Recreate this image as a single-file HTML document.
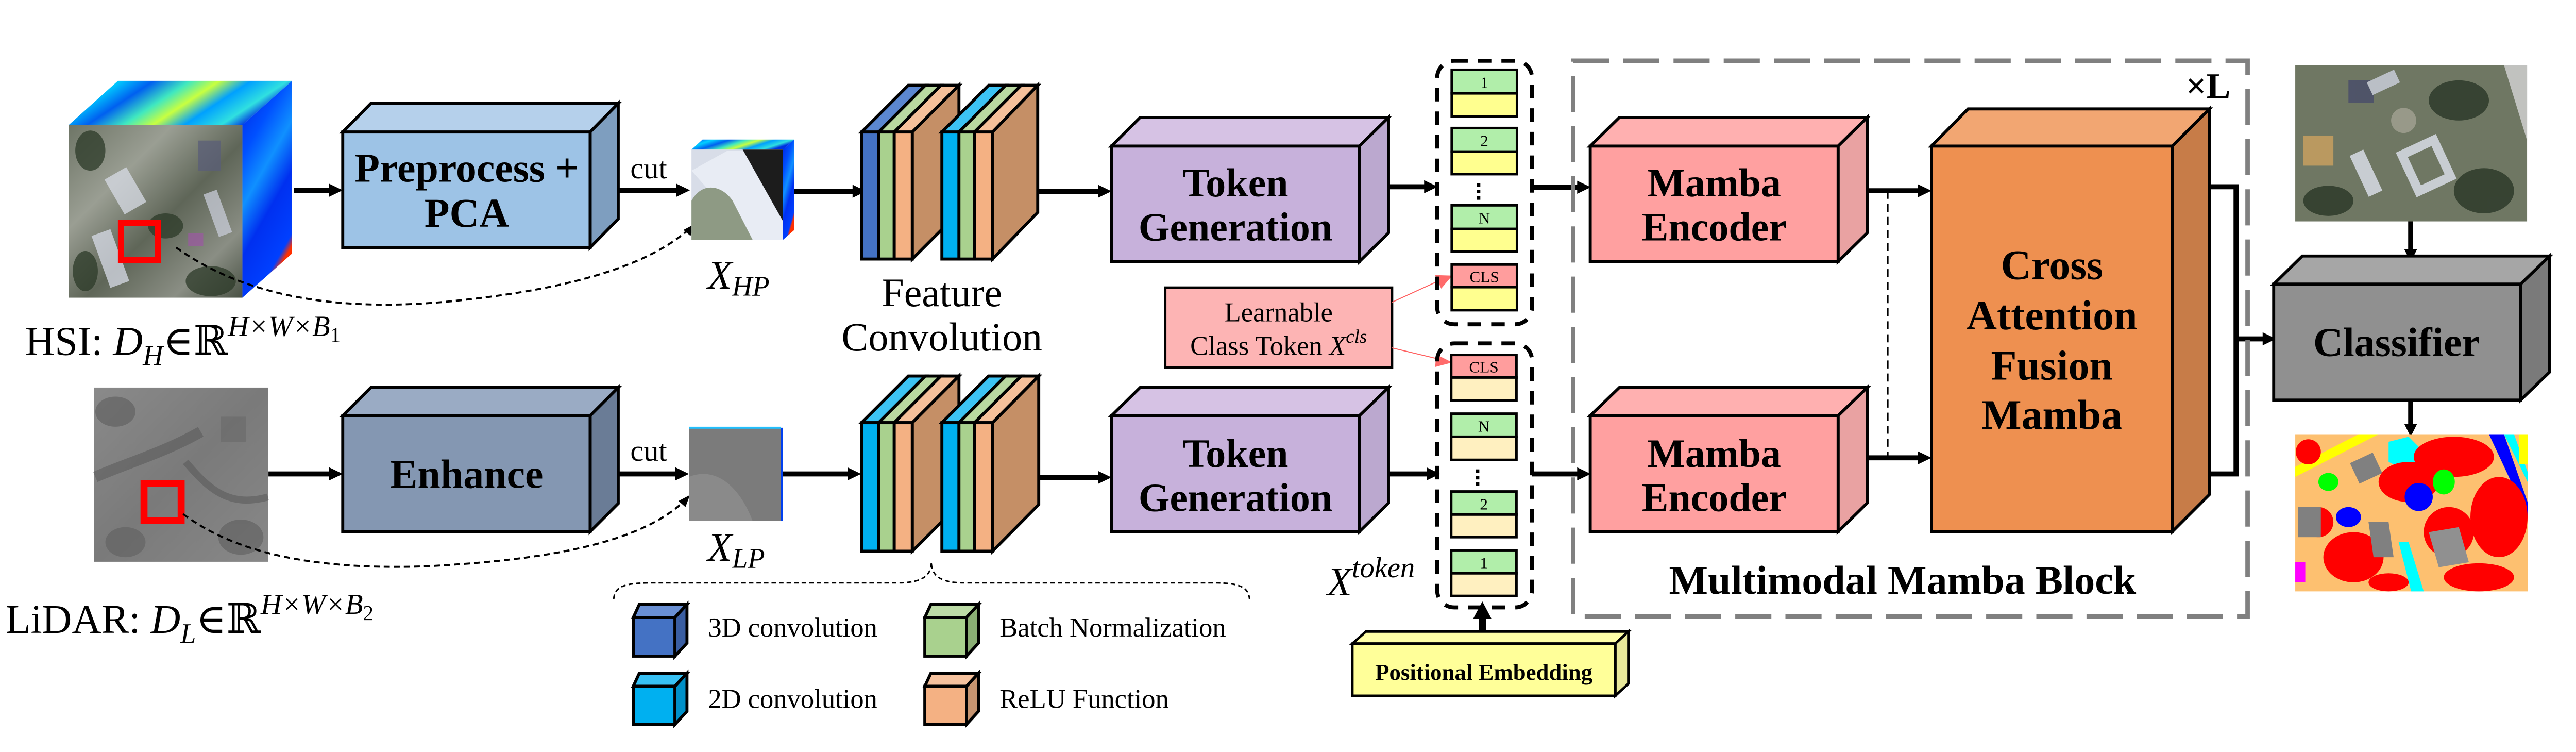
<!DOCTYPE html>
<html><head><meta charset="utf-8"><style>
html,body{margin:0;padding:0;background:#fff;overflow:hidden;}
svg{display:block;}
svg text{font-family:"Liberation Serif","DejaVu Serif",serif !important;}
</style></head><body>
<svg width="5133" height="1459" viewBox="0 0 5133 1459" xmlns="http://www.w3.org/2000/svg" font-family="Liberation Serif, DejaVu Serif, serif">
<defs>
<linearGradient id="jetT" x1="0" y1="0" x2="1" y2="0.3">
<stop offset="0" stop-color="#0040ff"/><stop offset="0.2" stop-color="#00d0ff"/><stop offset="0.35" stop-color="#0060f0"/><stop offset="0.5" stop-color="#40e8c0"/><stop offset="0.62" stop-color="#c8ff40"/><stop offset="0.75" stop-color="#00a0ff"/><stop offset="0.9" stop-color="#30e0e0"/><stop offset="1" stop-color="#0030e0"/>
</linearGradient>
<linearGradient id="jetS" x1="0" y1="0" x2="0.4" y2="1">
<stop offset="0" stop-color="#0020e0"/><stop offset="0.3" stop-color="#0050ff"/><stop offset="0.5" stop-color="#1090ff"/><stop offset="0.7" stop-color="#0030f0"/><stop offset="0.95" stop-color="#0040ff"/><stop offset="1" stop-color="#ff3000"/>
</linearGradient>
<linearGradient id="aer" x1="0" y1="0" x2="1" y2="1">
<stop offset="0" stop-color="#6e7566"/><stop offset="0.3" stop-color="#9a9e93"/><stop offset="0.55" stop-color="#5f6658"/><stop offset="0.8" stop-color="#8a8e84"/><stop offset="1" stop-color="#4a5245"/>
</linearGradient>
<linearGradient id="gry" x1="0" y1="0" x2="1" y2="1">
<stop offset="0" stop-color="#8a8a8a"/><stop offset="0.5" stop-color="#7a7a7a"/><stop offset="1" stop-color="#888"/>
</linearGradient>
</defs>
<g transform="scale(0.974)" font-family="Liberation Serif, DejaVu Serif, serif">

<polygon points="137,249 235,161 582,161 483,249" fill="url(#jetT)"/>
<polygon points="483,249 582,161 582,505 483,593" fill="url(#jetS)"/>
<rect x="137" y="249" width="346" height="344" fill="url(#aer)"/>
<g opacity="0.75">
<rect x="225" y="340" width="50" height="80" fill="#d8dce6" transform="rotate(-30 250 380)"/>
<rect x="395" y="280" width="45" height="60" fill="#5a5e78"/>
<rect x="420" y="380" width="28" height="90" fill="#c8ccd8" transform="rotate(-20 434 425)"/>
<rect x="200" y="460" width="40" height="110" fill="#d8dce8" transform="rotate(-20 220 515)"/>
<ellipse cx="180" cy="300" rx="30" ry="40" fill="#2c3a28"/>
<ellipse cx="330" cy="450" rx="35" ry="25" fill="#2c3a28"/>
<ellipse cx="420" cy="560" rx="50" ry="30" fill="#2c3a28"/>
<ellipse cx="170" cy="540" rx="25" ry="40" fill="#2c3a28"/>
<rect x="375" y="465" width="30" height="25" fill="#9a5aa0"/>
</g>
<rect x="241" y="444" width="74" height="74" fill="none" stroke="#ff0000" stroke-width="12"/>

<text x="50" y="707" font-size="82">HSI: <tspan font-style="italic">D</tspan><tspan font-style="italic" font-size="56" dy="20">H</tspan><tspan dy="-20">∈ℝ</tspan><tspan font-style="italic" font-size="58" dy="-38">H×W×B</tspan><tspan font-size="42" dy="12">1</tspan></text>

<rect x="187" y="772" width="347" height="347" fill="url(#gry)"/>
<g opacity="0.5">
<path d="M190,950 C260,920 330,900 400,860" stroke="#555" stroke-width="22" fill="none"/>
<path d="M370,920 C420,980 460,1010 534,990" stroke="#555" stroke-width="14" fill="none"/>
<ellipse cx="230" cy="820" rx="40" ry="30" fill="#555"/>
<ellipse cx="480" cy="1070" rx="45" ry="35" fill="#555"/>
<ellipse cx="250" cy="1080" rx="40" ry="30" fill="#5a5a5a"/>
<rect x="440" y="830" width="50" height="50" fill="#666"/>
</g>
<rect x="287" y="963" width="74" height="74" fill="none" stroke="#ff0000" stroke-width="14"/>

<text x="11" y="1261" font-size="82">LiDAR: <tspan font-style="italic">D</tspan><tspan font-style="italic" font-size="56" dy="20">L</tspan><tspan dy="-20">∈ℝ</tspan><tspan font-style="italic" font-size="58" dy="-38">H×W×B</tspan><tspan font-size="42" dy="12">2</tspan></text>

<g stroke="#000" stroke-width="10" fill="none">
<line x1="586" y1="379" x2="660" y2="379"/>
<line x1="535" y1="944" x2="660" y2="944"/>
<line x1="1232" y1="379" x2="1352" y2="379"/>
<line x1="1232" y1="944" x2="1350" y2="944"/>
<line x1="1583" y1="381" x2="1702" y2="381"/>
<line x1="1557" y1="944" x2="1692" y2="944"/>
<line x1="2068" y1="381" x2="2192" y2="381"/>
<line x1="2070" y1="951" x2="2192" y2="951"/>
<line x1="2767" y1="372" x2="2842" y2="372"/>
<line x1="2767" y1="944" x2="2848" y2="944"/>
<line x1="3053" y1="373" x2="3146" y2="373"/>
<line x1="3053" y1="944" x2="3146" y2="944"/>
<line x1="3690" y1="380" x2="3822" y2="380"/>
<line x1="3690" y1="912" x2="3822" y2="912"/>
<polyline points="4378,372 4456,372 4456,944 4378,944"/>
<line x1="4456" y1="675" x2="4512" y2="675"/>
<line x1="4804" y1="441" x2="4804" y2="500"/>
<line x1="4804" y1="797" x2="4804" y2="848"/>
<line x1="2954" y1="1265" x2="2954" y2="1230" stroke-width="14"/>
</g>
<g fill="#000">
<polygon points="683,379 656,366 656,392"/>
<polygon points="683,944 656,931 656,957"/>
<polygon points="1375,379 1348,366 1348,392"/>
<polygon points="1373,944 1346,931 1346,957"/>
<polygon points="1726,381 1699,368 1699,394"/>
<polygon points="1716,944 1689,931 1689,957"/>
<polygon points="2215,381 2188,368 2188,394"/>
<polygon points="2215,951 2188,938 2188,964"/>
<polygon points="2865,372 2838,359 2838,385"/>
<polygon points="2870,944 2843,931 2843,957"/>
<polygon points="3170,373 3143,360 3143,386"/>
<polygon points="3170,944 3143,931 3143,957"/>
<polygon points="3849,380 3822,367 3822,393"/>
<polygon points="3849,912 3822,899 3822,925"/>
<polygon points="4536,675 4509,662 4509,688"/>
<polygon points="4804,522 4791,496 4817,496"/>
<polygon points="4804,870 4791,844 4817,844"/>
<polygon points="2954,1198 2936,1232 2972,1232"/>
</g>

<path d="M351,493 C500,600 700,620 900,600 C1100,580 1280,540 1375,455" stroke="#000" stroke-width="4" stroke-dasharray="12 8" fill="none"/>
<polygon points="1385,446 1362,458 1376,470" fill="#000"/>
<path d="M365,1024 C480,1110 650,1135 850,1128 C1100,1115 1280,1080 1367,995" stroke="#000" stroke-width="4" stroke-dasharray="12 8" fill="none"/>
<polygon points="1375,986 1352,998 1366,1010" fill="#000"/>

<text x="1256" y="355" font-size="60">cut</text>
<text x="1256" y="918" font-size="60">cut</text>

<g stroke="#000" stroke-width="6">
<polygon points="683,263 739,206 1232,206 1176,263" fill="#b5d0eb"/>
<polygon points="1176,263 1232,206 1232,436 1176,493" fill="#7e9ebf"/>
<rect x="683" y="263" width="493" height="230" fill="#9dc3e6"/>
</g>
<text x="930" y="362" font-size="82" font-weight="bold" text-anchor="middle">Preprocess +</text>
<text x="930" y="452" font-size="82" font-weight="bold" text-anchor="middle">PCA</text>

<g stroke="#000" stroke-width="6">
<polygon points="683,828 739,772 1232,772 1176,828" fill="#9aabc4"/>
<polygon points="1176,828 1232,772 1232,1003 1176,1059" fill="#6a7c96"/>
<rect x="683" y="828" width="493" height="231" fill="#8497b2"/>
</g>
<text x="930" y="972" font-size="82" font-weight="bold" text-anchor="middle">Enhance</text>

<polygon points="1378,298 1400,278 1583,278 1560,298" fill="url(#jetT)"/>
<polygon points="1560,298 1583,278 1583,458 1560,478" fill="url(#jetS)"/>
<rect x="1378" y="298" width="182" height="180" fill="#d8dde8"/>
<path d="M1378,340 L1450,300 L1560,300 L1560,478 L1500,478 Z" fill="#e8ecf4"/>
<path d="M1480,298 L1560,298 L1560,440 Z" fill="#1c1c1c"/>
<path d="M1378,400 C1400,360 1440,370 1460,400 L1500,478 L1378,478 Z" fill="#8e9a84"/>
<text x="1410" y="575" font-size="80" font-style="italic">X<tspan font-size="56" dy="14">HP</tspan></text>

<rect x="1373" y="852" width="183" height="186" fill="#7b7b7b"/>
<path d="M1373,950 C1420,930 1470,960 1500,1038 L1373,1038 Z" fill="#8a8a8a"/>
<rect x="1373" y="850" width="183" height="4" fill="#20c0ff"/>
<rect x="1556" y="852" width="4" height="186" fill="#0040f0"/>
<text x="1410" y="1117" font-size="80" font-style="italic">X<tspan font-size="56" dy="14">LP</tspan></text>

<g stroke="#000" stroke-width="6">
<polygon points="1717,263 1810,170 1844,170 1751,263" fill="#5b87d0"/>
<polygon points="1751,263 1844,170 1875,170 1782,263" fill="#b9d9a1"/>
<polygon points="1782,263 1875,170 1911,170 1818,263" fill="#f5c09a"/>
<polygon points="1818,263 1911,170 1911,423 1818,516" fill="#c58f66"/>
<rect x="1717" y="263" width="34" height="253" fill="#4472c4"/>
<rect x="1751" y="263" width="31" height="253" fill="#a9d18e"/>
<rect x="1782" y="263" width="36" height="253" fill="#f4b183"/>
<polygon points="1877,263 1970,170 2004,170 1911,263" fill="#3cc3f3"/>
<polygon points="1911,263 2004,170 2035,170 1942,263" fill="#b9d9a1"/>
<polygon points="1942,263 2035,170 2068,170 1978,263" fill="#f5c09a"/>
<polygon points="1978,263 2068,170 2068,423 1978,516" fill="#c58f66"/>
<rect x="1877" y="263" width="34" height="253" fill="#00b0f0"/>
<rect x="1911" y="263" width="31" height="253" fill="#a9d18e"/>
<rect x="1942" y="263" width="36" height="253" fill="#f4b183"/>
</g>
<text x="1877" y="610" font-size="80" text-anchor="middle">Feature</text>
<text x="1877" y="698" font-size="80" text-anchor="middle">Convolution</text>

<g stroke="#000" stroke-width="6">
<polygon points="1717,842 1810,749 1844,749 1751,842" fill="#3cc3f3"/>
<polygon points="1751,842 1844,749 1875,749 1782,842" fill="#b9d9a1"/>
<polygon points="1782,842 1875,749 1911,749 1818,842" fill="#f5c09a"/>
<polygon points="1818,842 1911,749 1911,1005 1818,1098" fill="#c58f66"/>
<rect x="1717" y="842" width="34" height="256" fill="#00b0f0"/>
<rect x="1751" y="842" width="31" height="256" fill="#a9d18e"/>
<rect x="1782" y="842" width="36" height="256" fill="#f4b183"/>
<polygon points="1877,842 1970,749 2004,749 1911,842" fill="#3cc3f3"/>
<polygon points="1911,842 2004,749 2035,749 1942,842" fill="#b9d9a1"/>
<polygon points="1942,842 2035,749 2070,749 1978,842" fill="#f5c09a"/>
<polygon points="1978,842 2070,749 2070,1005 1978,1098" fill="#c58f66"/>
<rect x="1877" y="842" width="34" height="256" fill="#00b0f0"/>
<rect x="1911" y="842" width="31" height="256" fill="#a9d18e"/>
<rect x="1942" y="842" width="36" height="256" fill="#f4b183"/>
</g>

<path d="M1223,1193 C1225,1170 1240,1161 1300,1161 L1790,1161 C1840,1161 1856,1145 1856,1120 C1856,1145 1872,1161 1920,1161 L2420,1161 C2480,1161 2488,1175 2490,1193" stroke="#000" stroke-width="3" stroke-dasharray="9 6" fill="none"/>

<g stroke="#000" stroke-width="6">
<polygon points="1262,1230 1274,1204 1369,1204 1345,1230" fill="#6a90d4"/>
<polygon points="1345,1230 1369,1204 1369,1281 1345,1307" fill="#3a5ea2"/>
<rect x="1262" y="1230" width="83" height="77" fill="#4472c4"/>
<polygon points="1262,1367 1274,1341 1369,1341 1345,1367" fill="#38c1f4"/>
<polygon points="1345,1367 1369,1341 1369,1417 1345,1443" fill="#0090c8"/>
<rect x="1262" y="1367" width="83" height="76" fill="#00b0f0"/>
<polygon points="1843,1230 1855,1204 1950,1204 1926,1230" fill="#bcdba6"/>
<polygon points="1926,1230 1950,1204 1950,1281 1926,1307" fill="#8aae74"/>
<rect x="1843" y="1230" width="83" height="77" fill="#a9d18e"/>
<polygon points="1843,1367 1855,1341 1950,1341 1926,1367" fill="#f6c29e"/>
<polygon points="1926,1367 1950,1341 1950,1417 1926,1443" fill="#c69470"/>
<rect x="1843" y="1367" width="83" height="76" fill="#f4b183"/>
</g>
<text x="1411" y="1268" font-size="54">3D convolution</text>
<text x="1411" y="1410" font-size="54">2D convolution</text>
<text x="1992" y="1268" font-size="54">Batch Normalization</text>
<text x="1992" y="1410" font-size="54">ReLU Function</text>

<g stroke="#000" stroke-width="6">
<polygon points="2215,291 2272,234 2767,234 2709,291" fill="#d6c2e4"/>
<polygon points="2709,291 2767,234 2767,464 2709,521" fill="#bba8cf"/>
<rect x="2215" y="291" width="494" height="230" fill="#c7b1db"/>
<polygon points="2215,828 2272,772 2767,772 2709,828" fill="#d6c2e4"/>
<polygon points="2709,828 2767,772 2767,1002 2709,1059" fill="#bba8cf"/>
<rect x="2215" y="828" width="494" height="231" fill="#c7b1db"/>
</g>
<g font-size="80" font-weight="bold" text-anchor="middle">
<text x="2462" y="391">Token</text>
<text x="2462" y="479">Generation</text>
<text x="2462" y="930">Token</text>
<text x="2462" y="1018">Generation</text>
</g>

<rect x="2322" y="573" width="452" height="159" fill="#fdb4b4" stroke="#000" stroke-width="5"/>
<text x="2548" y="640" font-size="54" text-anchor="middle">Learnable</text>
<text x="2548" y="707" font-size="54" text-anchor="middle">Class Token <tspan font-style="italic">X</tspan><tspan font-style="italic" font-size="38" dy="-24">cls</tspan></text>
<g stroke="#ff6060" stroke-width="2">
<line x1="2774" y1="602" x2="2870" y2="558"/>
<line x1="2774" y1="693" x2="2870" y2="716"/>
</g>
<polygon points="2894,549 2860,548 2872,575" fill="#ff6b6b"/>
<polygon points="2894,722 2862,706 2860,731" fill="#ff6b6b"/>

<rect x="2864" y="121" width="189" height="525" rx="34" fill="none" stroke="#000" stroke-width="8" stroke-dasharray="27 20"/>
<rect x="2864" y="684" width="189" height="526" rx="34" fill="none" stroke="#000" stroke-width="8" stroke-dasharray="27 20"/>

<g stroke="#000" stroke-width="5">
<rect x="2893" y="139" width="130" height="47" fill="#b1eeaa"/><rect x="2893" y="186" width="130" height="46" fill="#ffff8f"/>
<rect x="2893" y="255" width="130" height="47" fill="#b1eeaa"/><rect x="2893" y="302" width="130" height="45" fill="#ffff8f"/>
<rect x="2893" y="409" width="130" height="47" fill="#b1eeaa"/><rect x="2893" y="456" width="130" height="45" fill="#ffff8f"/>
<rect x="2893" y="527" width="130" height="45" fill="#ff9d9d"/><rect x="2893" y="572" width="130" height="46" fill="#ffff8f"/>
<rect x="2892" y="707" width="130" height="45" fill="#ff9d9d"/><rect x="2892" y="752" width="130" height="46" fill="#fff0c0"/>
<rect x="2892" y="824" width="130" height="46" fill="#b1eeaa"/><rect x="2892" y="870" width="130" height="46" fill="#fff0c0"/>
<rect x="2892" y="979" width="130" height="46" fill="#b1eeaa"/><rect x="2892" y="1025" width="130" height="45" fill="#fff0c0"/>
<rect x="2892" y="1096" width="130" height="46" fill="#b1eeaa"/><rect x="2892" y="1142" width="130" height="45" fill="#fff0c0"/>
</g>
<g font-size="32" text-anchor="middle">
<text x="2958" y="175">1</text>
<text x="2958" y="291">2</text>
<text x="2958" y="445">N</text>
<text x="2958" y="562">CLS</text>
<text x="2957" y="742">CLS</text>
<text x="2957" y="860">N</text>
<text x="2957" y="1015">2</text>
<text x="2957" y="1132">1</text>
</g>
<g fill="#000">
<rect x="2943" y="365" width="7" height="7"/><rect x="2943" y="378" width="7" height="7"/><rect x="2943" y="391" width="7" height="7"/>
<rect x="2941" y="935" width="7" height="7"/><rect x="2941" y="948" width="7" height="7"/><rect x="2941" y="961" width="7" height="7"/>
</g>
<text x="2645" y="1186" font-size="80" font-style="italic">X<tspan font-size="58" dy="-36">token</tspan></text>

<g stroke="#000" stroke-width="5">
<polygon points="2695,1282 2722,1258 3245,1258 3219,1282" fill="#ffffa6"/>
<polygon points="3219,1282 3245,1258 3245,1362 3219,1386" fill="#e8e89a"/>
<rect x="2695" y="1282" width="524" height="104" fill="#ffff99"/>
</g>
<text x="2957" y="1354" font-size="46" font-weight="bold" text-anchor="middle">Positional Embedding</text>

<rect x="3135" y="121" width="1344" height="1107" fill="none" stroke="#808080" stroke-width="9" stroke-dasharray="72 28"/>
<text x="3326" y="1183" font-size="80" font-weight="bold" textLength="931" lengthAdjust="spacingAndGlyphs">Multimodal Mamba Block</text>
<text x="4356" y="195" font-size="72" font-weight="bold">×L</text>

<g stroke="#000" stroke-width="6">
<polygon points="3169,291 3227,234 3721,234 3663,291" fill="#ffb0b0"/>
<polygon points="3663,291 3721,234 3721,464 3663,521" fill="#e9a2a2"/>
<rect x="3169" y="291" width="494" height="230" fill="#ffa0a0"/>
<polygon points="3169,828 3227,772 3721,772 3663,828" fill="#ffb0b0"/>
<polygon points="3663,828 3721,772 3721,1002 3663,1059" fill="#e9a2a2"/>
<rect x="3169" y="828" width="494" height="231" fill="#ffa0a0"/>
</g>
<g font-size="80" font-weight="bold" text-anchor="middle">
<text x="3416" y="391">Mamba</text>
<text x="3416" y="479">Encoder</text>
<text x="3416" y="930">Mamba</text>
<text x="3416" y="1018">Encoder</text>
</g>
<line x1="3762" y1="380" x2="3762" y2="912" stroke="#000" stroke-width="3" stroke-dasharray="16 10"/>

<g stroke="#000" stroke-width="6">
<polygon points="3849,291 3922,217 4403,217 4329,291" fill="#f2a672"/>
<polygon points="4329,291 4403,217 4403,985 4329,1059" fill="#c77c48"/>
<rect x="3849" y="291" width="480" height="768" fill="#ee9050"/>
</g>
<g font-size="84" font-weight="bold" text-anchor="middle">
<text x="4089" y="556">Cross</text>
<text x="4089" y="656">Attention</text>
<text x="4089" y="756">Fusion</text>
<text x="4089" y="854">Mamba</text>
</g>

<g stroke="#000" stroke-width="6">
<polygon points="4531,566 4588,510 5081,510 5023,566" fill="#a6a6a6"/>
<polygon points="5023,566 5081,510 5081,741 5023,797" fill="#7a7a7a"/>
<rect x="4531" y="566" width="492" height="231" fill="#909090"/>
</g>
<text x="4776" y="709" font-size="82" font-weight="bold" text-anchor="middle">Classifier</text>

<rect x="4574" y="130" width="462" height="311" fill="#6f7763"/>
<g opacity="0.85">
<path d="M4990,130 L5036,130 L5036,280 Z" fill="#d0d0d0"/>
<rect x="4680" y="160" width="50" height="45" fill="#4a4e6a"/>
<rect x="4720" y="150" width="60" height="28" fill="#c8ccd8" transform="rotate(-25 4750 165)"/>
<rect x="4590" y="270" width="60" height="60" fill="#c8a060"/>
<rect x="4700" y="300" width="30" height="90" fill="#d8dce6" transform="rotate(-25 4715 345)"/>
<rect x="4800" y="290" width="70" height="80" fill="none" stroke="#d8dce6" stroke-width="18" transform="rotate(-25 4835 330)"/>
<ellipse cx="4900" cy="200" rx="60" ry="40" fill="#2e3a2a"/>
<ellipse cx="4950" cy="380" rx="60" ry="45" fill="#2e3a2a"/>
<ellipse cx="4640" cy="400" rx="50" ry="30" fill="#2e3a2a"/>
<ellipse cx="4790" cy="240" rx="25" ry="25" fill="#a0a090"/>
</g>

<rect x="4574" y="865" width="463" height="313" fill="#fdc070"/>
<g>
<path d="M4574,930 L4700,865 L4740,865 L4574,950 Z" fill="#ffff00"/>
<path d="M4960,865 L4990,865 L5037,1000 L5037,1030 Z" fill="#0000ff"/>
<path d="M4990,865 L5010,865 L5037,940 L5037,960 Z" fill="#00ffff"/>
<rect x="5020" y="865" width="17" height="60" fill="#ffff00"/>
<path d="M4760,880 L4800,870 L4830,900 L4800,940 L4760,920 Z" fill="#00ffff"/>
<rect x="4690" y="910" width="50" height="45" fill="#808080" transform="rotate(-25 4715 932)"/>
<ellipse cx="4890" cy="910" rx="80" ry="40" fill="#ff0000"/>
<ellipse cx="4980" cy="1030" rx="57" ry="80" fill="#ff0000"/>
<ellipse cx="4800" cy="960" rx="60" ry="40" fill="#ff0000"/>
<ellipse cx="4880" cy="1060" rx="50" ry="50" fill="#ff0000"/>
<ellipse cx="4690" cy="1110" rx="60" ry="50" fill="#ff0000"/>
<ellipse cx="4620" cy="1040" rx="30" ry="30" fill="#ff0000"/>
<ellipse cx="4600" cy="900" rx="25" ry="25" fill="#ff0000"/>
<ellipse cx="4940" cy="1150" rx="70" ry="28" fill="#ff0000"/>
<ellipse cx="4760" cy="1160" rx="40" ry="18" fill="#ff0000"/>
<rect x="4580" y="1010" width="45" height="60" fill="#808080"/>
<path d="M4720,1040 L4760,1040 L4770,1110 L4730,1110 Z" fill="#808080"/>
<path d="M4840,1060 L4900,1050 L4920,1120 L4860,1130 Z" fill="#909090"/>
<ellipse cx="4820" cy="990" rx="28" ry="28" fill="#0000ff"/>
<ellipse cx="4680" cy="1030" rx="25" ry="20" fill="#0000ff"/>
<path d="M4780,1080 L4800,1080 L4830,1178 L4805,1178 Z" fill="#00ffff"/>
<ellipse cx="4640" cy="960" rx="20" ry="18" fill="#00ff00"/>
<ellipse cx="4870" cy="960" rx="22" ry="25" fill="#00ff00"/>
<rect x="4574" y="1120" width="20" height="40" fill="#ff00ff"/>
</g>
</g>
</svg>
</body></html>
